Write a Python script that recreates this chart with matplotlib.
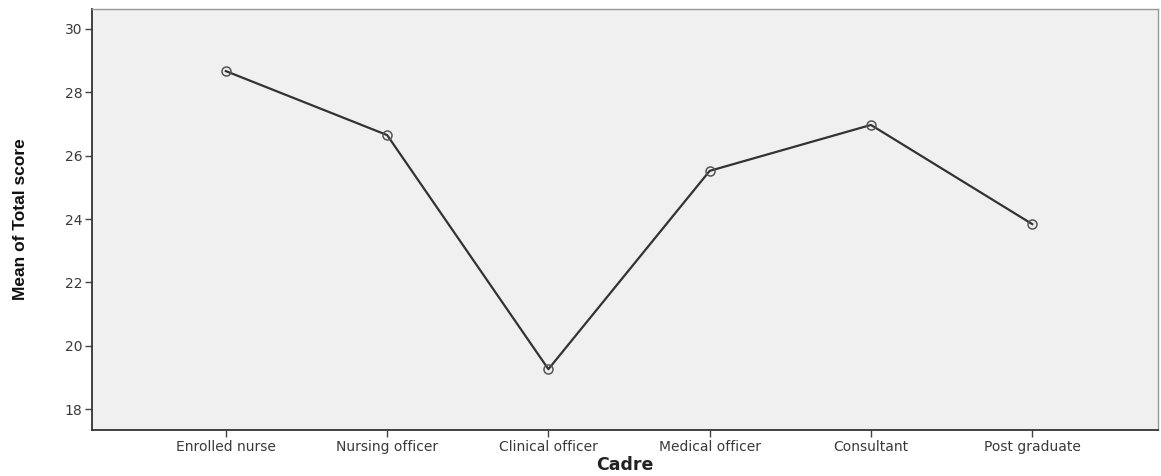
import matplotlib
matplotlib.use("Agg")
import matplotlib.pyplot as plt
from matplotlib import font_manager

categories = ["Enrolled nurse", "Nursing officer", "Clinical officer",
              "Medical officer", "Consultant", "Post graduate"]
mean_scores = [28.67, 26.65, 19.26, 25.52, 26.97, 23.84]
y_ticks = [18, 20, 22, 24, 26, 28, 30]

names = {f.name for f in font_manager.fontManager.ttflist}
narrow = "Liberation Sans Narrow" if "Liberation Sans Narrow" in names else "Liberation Sans"

fig = plt.figure(figsize=(11.61, 4.76), dpi=100)
ax = fig.add_axes([92/1161, 1-430/476, (1158-92)/1161, (430-9)/476])
ax.set_facecolor("#f0f0f0")

x = list(range(len(categories)))
ax.plot(x, mean_scores, color="#333333", lw=1.6, marker="o", ms=6.5,
        mfc="none", mec="#555555", mew=1.1, zorder=3)

ax.set_xlim(-0.83, 5.78)
ax.set_ylim(17.34, 30.63)
ax.set_yticks(y_ticks)
ax.set_xticks(x)
ax.set_xticklabels(categories)

for lab in ax.get_xticklabels() + ax.get_yticklabels():
    lab.set_fontfamily("DejaVu Sans")
    lab.set_fontsize(10)
    lab.set_color("#3a3a3a")

ax.tick_params(axis="both", direction="out", length=5, width=1, color="#444444", pad=2)

for side in ["left", "bottom"]:
    ax.spines[side].set_color("#333333")
    ax.spines[side].set_linewidth(1.3)
for side in ["top", "right"]:
    ax.spines[side].set_color("#999999")
    ax.spines[side].set_linewidth(1.0)

ax.set_xlabel("Cadre", fontfamily="DejaVu Sans", fontweight="bold", fontsize=12.5,
              color="#222222", labelpad=2)
ax.set_ylabel("Mean of Total score", fontfamily=narrow, fontweight="bold",
              fontsize=12.5, color="#111111")
ax.yaxis.set_label_coords(-0.060, 0.5)

fig.savefig("out.png", dpi=100, facecolor="white")
